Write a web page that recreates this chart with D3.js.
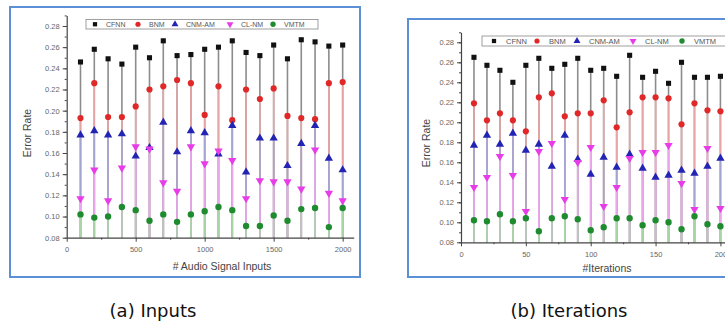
<!DOCTYPE html>
<html>
<head>
<meta charset="utf-8">
<script src="https://cdn.jsdelivr.net/npm/d3@7"></script>
<style>
  body { margin: 0; background: #fff; }
  svg { display: block; }
</style>
</head>
<body>
<svg id="chart" width="725" height="327"></svg>
<script>
const seriesNames = ['CFNN', 'BNM', 'CNM-AM', 'CL-NM', 'VMTM'];
const yTicks = [0.08, 0.10, 0.12, 0.14, 0.16, 0.18, 0.20, 0.22, 0.24, 0.26, 0.28];

// (a) inputs
const inputSteps = [100, 200, 300, 400, 500, 600, 700, 800, 900, 1000, 1100, 1200, 1300, 1400, 1500, 1600, 1700, 1800, 1900, 2000];
const inputTicks = [0, 500, 1000, 1500, 2000];
const inputsCFNN = [0.246, 0.258, 0.249, 0.244, 0.260, 0.250, 0.266, 0.252, 0.253, 0.258, 0.260, 0.266, 0.255, 0.252, 0.262, 0.249, 0.267, 0.265, 0.261, 0.262];
const inputsBNM = [0.193, 0.226, 0.194, 0.194, 0.204, 0.220, 0.223, 0.229, 0.226, 0.196, 0.223, 0.191, 0.220, 0.211, 0.221, 0.195, 0.193, 0.192, 0.226, 0.227];
const inputsCNMAM = [0.177, 0.181, 0.177, 0.178, 0.157, 0.165, 0.189, 0.161, 0.181, 0.179, 0.159, 0.186, 0.142, 0.174, 0.174, 0.148, 0.169, 0.186, 0.155, 0.144];
const inputsCLNM = [0.117, 0.144, 0.115, 0.146, 0.166, 0.164, 0.132, 0.124, 0.166, 0.150, 0.162, 0.153, 0.117, 0.134, 0.133, 0.133, 0.126, 0.163, 0.122, 0.115];
const inputsVMTM = [0.102, 0.099, 0.100, 0.109, 0.106, 0.096, 0.102, 0.095, 0.102, 0.105, 0.109, 0.106, 0.091, 0.091, 0.101, 0.096, 0.107, 0.108, 0.090, 0.108];

// (b) iterations
const iterSteps = [10, 20, 30, 40, 50, 60, 70, 80, 90, 100, 110, 120, 130, 140, 150, 160, 170, 180, 190, 200];
const iterTicks = [0, 50, 100, 150, 200];
const itersCFNN = [0.265, 0.257, 0.252, 0.240, 0.257, 0.264, 0.254, 0.258, 0.264, 0.252, 0.254, 0.246, 0.267, 0.245, 0.251, 0.239, 0.260, 0.245, 0.245, 0.246];
const itersBNM = [0.219, 0.202, 0.209, 0.202, 0.191, 0.225, 0.229, 0.206, 0.209, 0.209, 0.222, 0.195, 0.210, 0.225, 0.225, 0.224, 0.198, 0.219, 0.212, 0.211];
const itersCNMAM = [0.177, 0.187, 0.178, 0.189, 0.172, 0.178, 0.156, 0.187, 0.163, 0.148, 0.165, 0.155, 0.168, 0.154, 0.145, 0.147, 0.152, 0.149, 0.156, 0.164];
const itersCLNM = [0.135, 0.145, 0.166, 0.147, 0.111, 0.171, 0.179, 0.123, 0.160, 0.175, 0.116, 0.135, 0.164, 0.170, 0.170, 0.177, 0.139, 0.113, 0.174, 0.114];
const itersVMTM = [0.102, 0.101, 0.108, 0.101, 0.104, 0.091, 0.104, 0.106, 0.103, 0.092, 0.095, 0.104, 0.104, 0.097, 0.102, 0.100, 0.093, 0.106, 0.098, 0.096];

const markColors = ['#111111', '#e02828', '#2424b4', '#e83ce8', '#1e8c2e'];
const stemColors = ['#8c8c8c', '#e6a4a4', '#a4a4d2', '#eaa8ea', '#a8d4a8'];
const symbols = [d3.symbolSquare, d3.symbolCircle, d3.symbolTriangle, d3.symbolTriangle, d3.symbolCircle];
const symbolSizes = [26, 30, 30, 30, 32];
const symbolRotate = [0, 0, 0, 180, 0];

const svg = d3.select('#chart');

function drawPanel(p) {
  const g = svg.append('g');

  // panel frame
  g.append('rect')
    .attr('x', p.frame[0]).attr('y', p.frame[1])
    .attr('width', p.frame[2]).attr('height', p.frame[3])
    .attr('fill', 'none')
    .attr('stroke', '#5b8fd6')
    .attr('stroke-width', 2);

  const x = d3.scaleLinear().domain(p.xDomain).range(p.xRange);
  const y = d3.scaleLinear().domain([0.08, 0.29]).range(p.yRange);

  // drop lines, CFNN at the back
  p.series.forEach((vals, si) => {
    g.append('g')
      .selectAll('line')
      .data(vals)
      .join('line')
      .attr('x1', (d, i) => x(p.steps[i]))
      .attr('x2', (d, i) => x(p.steps[i]))
      .attr('y1', y(0.08))
      .attr('y2', (d) => y(d))
      .attr('stroke', stemColors[si])
      .attr('stroke-width', 1.6);
  });

  // axes
  const yMinor = d3.range(0.08, 0.2901, 0.01);
  g.append('g')
    .attr('transform', `translate(${p.xRange[0]},0)`)
    .call(d3.axisLeft(y).tickValues(yMinor).tickSize(2).tickFormat(''))
    .call((a) => a.select('.domain').remove())
    .selectAll('line').attr('stroke', '#444');
  const yAxis = g.append('g')
    .attr('transform', `translate(${p.xRange[0]},0)`)
    .call(d3.axisLeft(y).tickValues(yTicks).tickSize(4).tickSizeOuter(0).tickFormat(d3.format('.2f')));
  yAxis.select('.domain').attr('stroke', '#444').attr('stroke-width', 1.2);
  yAxis.selectAll('line').attr('stroke', '#444');
  yAxis.selectAll('text')
    .attr('fill', '#666')
    .style('font-family', 'Liberation Sans, Arial, sans-serif')
    .style('font-size', p.tickFont + 'px');

  const xMinor = p.xTicks.slice(0, -1).map((t, i) => (t + p.xTicks[i + 1]) / 2);
  g.append('g')
    .attr('transform', `translate(0,${p.yRange[0]})`)
    .call(d3.axisBottom(x).tickValues(xMinor).tickSize(2).tickFormat(''))
    .call((a) => a.select('.domain').remove())
    .selectAll('line').attr('stroke', '#444');
  const xAxis = g.append('g')
    .attr('transform', `translate(0,${p.yRange[0]})`)
    .call(d3.axisBottom(x).tickValues(p.xTicks).tickSize(4).tickSizeOuter(0).tickPadding(5).tickFormat(d3.format('d')));
  xAxis.select('.domain').attr('stroke', '#444').attr('stroke-width', 1.2);
  xAxis.selectAll('line').attr('stroke', '#444');
  xAxis.selectAll('text')
    .attr('fill', '#666')
    .style('font-family', 'Liberation Sans, Arial, sans-serif')
    .style('font-size', p.tickFont + 'px');

  // markers
  p.series.forEach((vals, si) => {
    const sym = d3.symbol().type(symbols[si]).size(symbolSizes[si]);
    g.append('g')
      .selectAll('path')
      .data(vals)
      .join('path')
      .attr('d', sym)
      .attr('transform', (d, i) => `translate(${x(p.steps[i])},${y(d)}) rotate(${symbolRotate[si]})`)
      .attr('fill', markColors[si]);
  });

  // axis titles
  g.append('text')
    .attr('transform', `translate(${p.yLabelPos[0]},${p.yLabelPos[1]}) rotate(-90)`)
    .attr('text-anchor', 'middle')
    .attr('fill', '#444')
    .style('font-family', 'Liberation Sans, Arial, sans-serif')
    .style('font-size', '10.5px')
    .text('Error Rate');
  g.append('text')
    .attr('x', p.xLabelPos[0]).attr('y', p.xLabelPos[1])
    .attr('text-anchor', 'middle')
    .attr('fill', '#444')
    .style('font-family', 'Liberation Sans, Arial, sans-serif')
    .style('font-size', '10.5px')
    .text(p.xTitle);

  // legend
  const lg = g.append('g');
  lg.append('rect')
    .attr('x', p.legendBox[0]).attr('y', p.legendBox[1])
    .attr('width', p.legendBox[2]).attr('height', p.legendBox[3])
    .attr('fill', '#fff')
    .attr('stroke', '#888')
    .attr('stroke-width', 0.8);
  const cy = p.legendBox[1] + p.legendBox[3] / 2;
  seriesNames.forEach((name, si) => {
    const sym = d3.symbol().type(symbols[si]).size(symbolSizes[si] * 0.7);
    lg.append('path')
      .attr('d', sym)
      .attr('transform', `translate(${p.legendX[si]},${cy}) rotate(${symbolRotate[si]})`)
      .attr('fill', markColors[si]);
    lg.append('text')
      .attr('x', p.legendX[si] + p.legendGap)
      .attr('y', cy)
      .attr('dy', '0.35em')
      .attr('fill', '#555')
      .style('font-family', 'Liberation Sans, Arial, sans-serif')
      .style('font-size', p.legendFont + 'px')
      .text(name);
  });

  // caption
  svg.append('text')
    .attr('x', p.captionX).attr('y', 317)
    .attr('text-anchor', 'middle')
    .attr('fill', '#111')
    .style('font-family', 'DejaVu Sans, sans-serif')
    .style('font-size', '18px')
    .text(p.caption);
}

drawPanel({
  frame: [10, 7, 350, 270],
  xDomain: [0, 2080],
  xRange: [66.7, 353.7],
  yRange: [237.7, 15.4],
  steps: inputSteps,
  xTicks: inputTicks,
  series: [inputsCFNN, inputsBNM, inputsCNMAM, inputsCLNM, inputsVMTM],
  tickFont: 7.5,
  yLabelPos: [31, 133],
  xLabelPos: [222, 270],
  xTitle: '# Audio Signal Inputs',
  legendBox: [86, 19.5, 232, 9.5],
  legendX: [95, 138, 175, 230, 273],
  legendGap: 11,
  legendFont: 7,
  caption: '(a) Inputs',
  captionX: 153,
});

drawPanel({
  frame: [408, 19, 330, 258],
  xDomain: [0, 210],
  xRange: [461, 733.4],
  yRange: [242.3, 32.3],
  steps: iterSteps,
  xTicks: iterTicks,
  series: [itersCFNN, itersBNM, itersCNMAM, itersCLNM, itersVMTM],
  tickFont: 7.5,
  yLabelPos: [430, 143],
  xLabelPos: [607, 272],
  xTitle: '#Iterations',
  legendBox: [482, 36, 250, 10],
  legendX: [494, 537, 577, 633, 682],
  legendGap: 12,
  legendFont: 7.5,
  caption: '(b) Iterations',
  captionX: 569,
});
</script>
</body>
</html>
